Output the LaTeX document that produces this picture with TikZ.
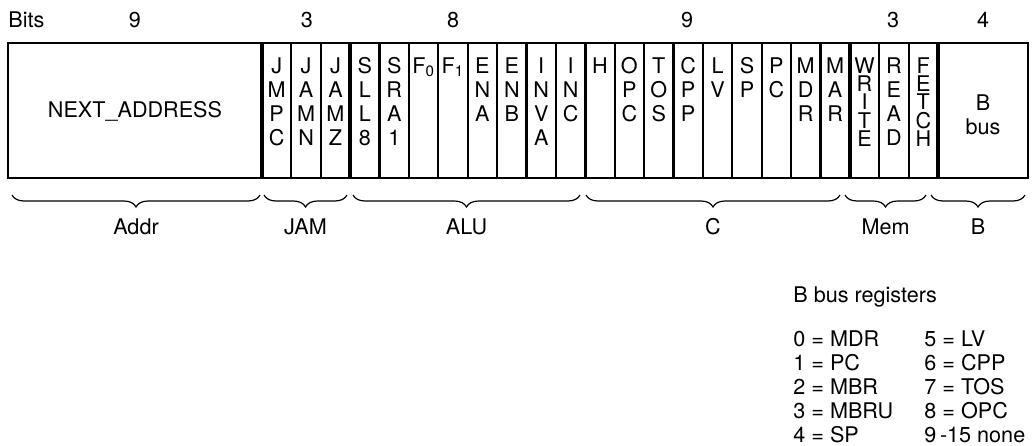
\documentclass[tikz,border=0pt]{standalone}
\usepackage{fontspec}
\setmainfont{TeX Gyre Heros}
\usetikzlibrary{decorations.pathreplacing}

\begin{document}
\begin{tikzpicture}[
  x=0.5pt, y=-0.5pt,
  txt/.style={inner sep=0pt, align=center, font=\fontsize{10.8}{12}\selectfont},
  bit/.style={txt, anchor=north},
  squeezed/.style={bit, font=\fontsize{10.8}{9.2}\selectfont},
  frame/.style={line width=1.4pt},
  cut/.style={line width=1.1pt},
  groupcut/.style={line width=1.8pt},
  brc/.style={decorate, decoration={brace, mirror, amplitude=6pt}, line width=0.6pt},
  grp/.style={txt, midway, below=11.5pt}
]
  \useasboundingbox (0,0) rectangle (1033,445);
  \def\cw{29.391}

  % bit counts
  \node[txt, anchor=west] (bits) at (8,20) {Bits};
  \node[txt] (n1) at (135,20) {9};
  \node[txt] (n2) at (307,20) {3};
  \node[txt] (n3) at (453,20) {8};
  \node[txt] (n4) at (687,20) {9};
  \node[txt] (n5) at (893,20) {3};
  \node[txt] (n6) at (983,20) {4};

  % the microinstruction word
  \foreach \i in {1,2,4,5,6,7,8,9,10,12,13,14,15,16,17,18,19,21,22}
    \draw[cut] ({262+\i*\cw},43) -- ({262+\i*\cw},178);
  \foreach \x in {262,350.2,585.3,849.8,938}
    \draw[groupcut] (\x,43) -- (\x,178);
  \draw[frame] (8,43) rectangle (1028,178);

  \node[txt] (addr) at (135,111) {NEXT\_ADDRESS};
  \foreach \i/\t in {0/J\\M\\P\\C, 1/J\\A\\M\\N, 2/J\\A\\M\\Z,
                     3/S\\L\\L\\8, 4/S\\R\\A\\1, 5/F\textsubscript{0}, 6/F\textsubscript{1},
                     7/E\\N\\A, 8/E\\N\\B, 9/I\\N\\V\\A, 10/I\\N\\C,
                     11/H, 12/O\\P\\C, 13/T\\O\\S, 14/C\\P\\P, 15/L\\V,
                     16/S\\P, 17/P\\C, 18/M\\D\\R, 19/M\\A\\R, 21/R\\E\\A\\D}
    \node[bit] (f\i) at ({262+(\i+0.5)*\cw},57) {\t};
  \node[squeezed] (f20) at ({262+20.5*\cw},57) {W\\R\\I\\T\\E};
  \node[squeezed] (f22) at ({262+22.5*\cw},57) {F\\E\\T\\C\\H};
  \node[txt] (bbus) at (983,115) {B\\bus};

  % field groups
  \draw[brc] (12,195) -- (260,195) node[grp] (gaddr) {Addr};
  \draw[brc] (264,195) -- (347,195) node[grp] (gjam) {JAM};
  \draw[brc] (353,195) -- (580,195) node[grp] (galu) {ALU};
  \draw[brc] (586,195) -- (840,195) node[grp] (gc) {C};
  \draw[brc] (845,195) -- (926,195) node[grp] (gmem) {Mem};
  \draw[brc] (931,195) -- (1025,195) node[grp] (gb) {B};

  % B bus encoding
  \node[txt, anchor=north west, align=left] (legend) at (793,286) {B bus registers};
  \node[txt, anchor=north west, align=left] (regs1) at (793,330)
    {0 = MDR\\1 = PC\\2 = MBR\\3 = MBRU\\4 = SP};
  \node[txt, anchor=north west, align=left] (regs2) at (924,330)
    {5 = LV\\6 = CPP\\7 = TOS\\8 = OPC\\9\,-15 none};
\end{tikzpicture}
\end{document}
